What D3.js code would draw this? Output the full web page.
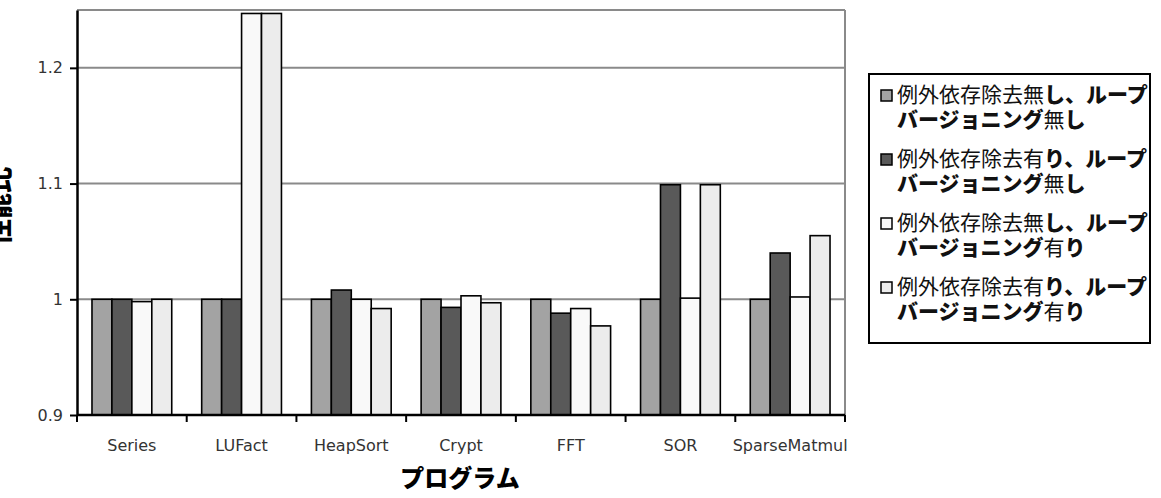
<!DOCTYPE html>
<html>
<head>
<meta charset="utf-8">
<script src="https://cdn.jsdelivr.net/npm/d3@7"></script>
<style>
  body { margin: 0; background: #fff; }
  svg { display: block; }
</style>
</head>
<body>
<div class="chart"></div>
<script>
(function() {
  var programs = ["Series", "LUFact", "HeapSort", "Crypt", "FFT", "SOR", "SparseMatmul"];
  var seriesNames = [
    ["例外依存除去無し、ループ", "バージョニング無し"],
    ["例外依存除去有り、ループ", "バージョニング無し"],
    ["例外依存除去無し、ループ", "バージョニング有り"],
    ["例外依存除去有り、ループ", "バージョニング有り"]
  ];
  var noExcNoVer  = [1.0, 1.0, 1.0, 1.0, 1.0, 1.0, 1.0];
  var excNoVer    = [1.0, 1.0, 1.008, 0.993, 0.988, 1.099, 1.04];
  var noExcVer    = [0.998, 1.247, 1.0, 1.003, 0.992, 1.001, 1.002];
  var excVer      = [1.0, 1.247, 0.992, 0.997, 0.977, 1.099, 1.055];
  var yTicks = [0.9, 1, 1.1, 1.2];
  var colors = ["#a3a3a3", "#595959", "#f9f9f9", "#ececec"];

  var width = 1161, height = 498,
    plot = { left: 77, right: 845, top: 10, bottom: 415 };

  var svg = d3.select(".chart").append("svg")
    .attr("width", width)
    .attr("height", height);

  var values = [noExcNoVer, excNoVer, noExcVer, excVer];

  var x0 = d3.scaleBand().domain(programs)
    .range([plot.left, plot.right])
    .paddingInner(0.273).paddingOuter(0.1365);
  var x1 = d3.scaleBand().domain(d3.range(4)).range([0, x0.bandwidth()]);
  var y = d3.scaleLinear().domain([0.9, 1.25]).range([plot.bottom, plot.top]);

  // grid lines + frame
  svg.append("g").selectAll("line")
    .data(yTicks.slice(1).concat([1.25]))
    .enter().append("line")
      .attr("x1", plot.left).attr("x2", plot.right)
      .attr("y1", function(d) { return y(d); })
      .attr("y2", function(d) { return y(d); })
      .attr("stroke", "#8a8a8a").attr("stroke-width", 2);
  svg.append("line")
    .attr("x1", plot.right).attr("x2", plot.right)
    .attr("y1", plot.top).attr("y2", plot.bottom)
    .attr("stroke", "#8a8a8a").attr("stroke-width", 2);

  // bars
  var groups = svg.append("g").selectAll("g")
    .data(programs)
    .enter().append("g")
      .attr("transform", function(d) { return "translate(" + x0(d) + ",0)"; });
  groups.selectAll("rect")
    .data(function(d, i) { return values.map(function(s, k) { return { k: k, v: s[i] }; }); })
    .enter().append("rect")
      .attr("x", function(d) { return x1(d.k); })
      .attr("width", x1.bandwidth())
      .attr("y", function(d) { return y(d.v); })
      .attr("height", function(d) { return y(0.9) - y(d.v); })
      .attr("fill", function(d) { return colors[d.k]; })
      .attr("stroke", "#000")
      .attr("stroke-width", 1.6);

  // axes
  var yAxis = d3.axisLeft(y).tickValues(yTicks).tickSize(7).tickSizeOuter(0)
    .tickFormat(function(d) { return String(d); });
  var ga = svg.append("g").attr("transform", "translate(" + plot.left + ",0)").call(yAxis);
  ga.select(".domain").attr("stroke-width", 2.5);
  ga.selectAll(".tick line").attr("stroke-width", 2);
  ga.selectAll("text").attr("font-family", "DejaVu Sans").attr("font-size", 16)
    .attr("fill", "#333").attr("x", -14);

  svg.append("line")
    .attr("x1", plot.left).attr("x2", plot.right)
    .attr("y1", plot.bottom).attr("y2", plot.bottom)
    .attr("stroke", "#000").attr("stroke-width", 2.5);
  svg.append("g").selectAll("line")
    .data(d3.range(programs.length + 1))
    .enter().append("line")
      .attr("x1", function(i) { return plot.left + i * x0.step(); })
      .attr("x2", function(i) { return plot.left + i * x0.step(); })
      .attr("y1", plot.bottom).attr("y2", plot.bottom + 7)
      .attr("stroke", "#000").attr("stroke-width", 2);
  svg.append("g").selectAll("text")
    .data(programs)
    .enter().append("text")
      .attr("x", function(d) { return x0(d) + x0.bandwidth() / 2; })
      .attr("y", 451)
      .attr("text-anchor", "middle")
      .attr("font-family", "DejaVu Sans").attr("font-size", 16).attr("fill", "#333")
      .text(function(d) { return d; });

  // titles
  svg.append("text")
    .attr("x", 460).attr("y", 487)
    .attr("text-anchor", "middle")
    .attr("font-family", "Noto Sans CJK JP").attr("font-weight", 900).attr("font-size", 24)
    .text("プログラム");
  svg.append("text")
    .attr("transform", "translate(9,206) rotate(-90)")
    .attr("text-anchor", "middle")
    .attr("font-family", "Noto Sans CJK JP").attr("font-weight", 900).attr("font-size", 26)
    .text("性能比");

  // legend
  var lg = svg.append("g");
  lg.append("rect")
    .attr("x", 869).attr("y", 74).attr("width", 281).attr("height", 269)
    .attr("fill", "#fff").attr("stroke", "#000").attr("stroke-width", 2);
  var isKana = function(c) { return /[\u3040-\u30ff\u3001]/.test(c); };
  seriesNames.forEach(function(lines, k) {
    var yy = 102 + k * 64;
    lg.append("rect")
      .attr("x", 881).attr("y", yy - 12).attr("width", 11).attr("height", 11)
      .attr("fill", colors[k]).attr("stroke", "#000").attr("stroke-width", 1.5);
    lines.forEach(function(line, j) {
      var t = lg.append("text")
        .attr("x", 897).attr("y", yy + j * 25)
        .attr("font-family", "Noto Sans CJK JP").attr("font-size", 21).attr("fill", "#111");
      // kana runs are drawn heavy, kanji regular
      var runs = [];
      line.split("").forEach(function(c) {
        var b = isKana(c);
        if (runs.length && runs[runs.length - 1].b === b) runs[runs.length - 1].s += c;
        else runs.push({ b: b, s: c });
      });
      runs.forEach(function(r) {
        t.append("tspan").attr("font-weight", r.b ? 900 : 400).text(r.s);
      });
    });
  });
})();
</script>
</body>
</html>
